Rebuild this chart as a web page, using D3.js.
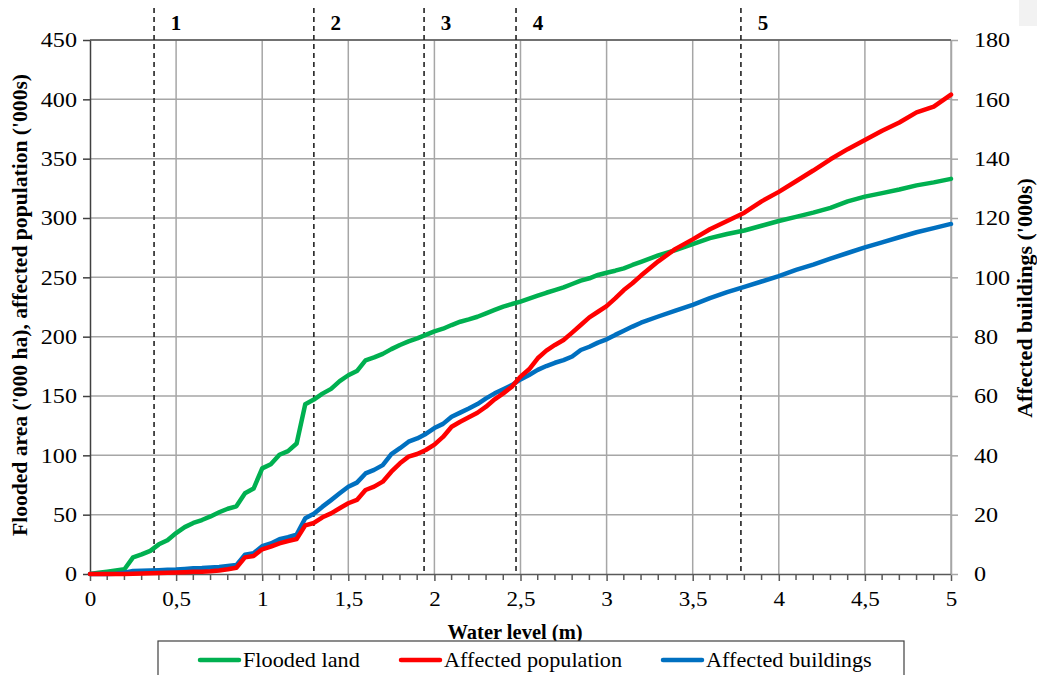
<!DOCTYPE html>
<html>
<head>
<meta charset="utf-8">
<script src="https://cdn.jsdelivr.net/npm/d3@7"></script>
<style>
  body { margin: 0; background: #fff; }
  svg { display: block; font-family: "Liberation Serif", "DejaVu Serif", serif; }
</style>
</head>
<body>
<svg id="chart" width="1037" height="675"></svg>
<script>
// water level (m)
const waterLevel = [0, 0.05, 0.1, 0.15, 0.2, 0.25, 0.3, 0.35, 0.4, 0.45, 0.5, 0.55, 0.6, 0.65, 0.7, 0.75, 0.8, 0.85, 0.9, 0.95,
  1, 1.05, 1.1, 1.15, 1.2, 1.25, 1.3, 1.35, 1.4, 1.45, 1.5, 1.55, 1.6, 1.65, 1.7, 1.75, 1.8, 1.85, 1.9, 1.95,
  2, 2.05, 2.1, 2.15, 2.2, 2.25, 2.3, 2.35, 2.4, 2.45, 2.5, 2.55, 2.6, 2.65, 2.7, 2.75, 2.8, 2.85, 2.9, 2.95,
  3, 3.05, 3.1, 3.15, 3.2, 3.3, 3.4, 3.5, 3.6, 3.7, 3.8, 3.9, 4, 4.1, 4.2, 4.3, 4.4, 4.5, 4.6, 4.7, 4.8, 4.9, 5];

// '000 ha (left axis)
const floodedLand = [0, 1, 2, 3, 4, 14, 16.5, 19.5, 25, 28.5, 34.5, 39.5, 43, 45.5, 48.5, 52, 55, 57, 68, 72,
  89, 92.5, 100.5, 103.5, 110, 143, 147, 152, 156, 162.5, 167.5, 171, 180, 182.5, 185.5, 189.5, 193, 196, 198.5, 201.5,
  204.5, 206.7, 209.8, 212.6, 214.6, 216.8, 219.7, 222.5, 225.3, 227.5, 229.5, 232, 234.5, 237, 239.3, 241.6, 244.4, 247.2, 249.2, 252,
  253.9, 255.6, 257.6, 260.4, 263, 268.5, 273, 278, 283, 286.5, 289.5, 293.5, 297.5, 301, 304.5, 308.5, 314, 318, 321, 324, 327.5, 330, 333];

// '000s (left axis)
const affectedPopulation = [0, 0, 0, 0, 0, 0.3, 0.5, 0.7, 0.8, 1, 1.2, 1.5, 1.8, 2, 2.3, 3, 4, 5.3, 14, 15.2,
  20.8, 23, 25.8, 27.8, 29.5, 41, 43, 47.8, 51.1, 55.4, 59.6, 62.4, 70.8, 73.6, 77.8, 86.2, 93.3, 98.9, 101.1, 104.5,
  109, 115.5, 124.1, 128.3, 132, 135.9, 141, 147.2, 152.2, 157.8, 166.3, 172.5, 181.8, 188.2, 193, 197.2, 203.4, 209.8, 216.3, 221,
  225.8, 232.3, 239.3, 245, 251.5, 263.5, 274, 282, 290.5, 297.5, 304.5, 314, 322, 331, 340, 349.5, 358, 365.7, 373.5, 380.5, 389, 393.8, 404];

// '000s (right axis)
const affectedBuildings = [0, 0, 0, 0.1, 0.4, 1, 1.1, 1.2, 1.3, 1.4, 1.5, 1.7, 1.9, 2, 2.2, 2.4, 2.7, 3, 6.5, 7,
  9.4, 10.3, 11.7, 12.4, 13.3, 18.8, 20.3, 22.7, 24.9, 27.2, 29.4, 30.8, 33.9, 35.1, 36.7, 40.4, 42.4, 44.6, 45.7, 47.2,
  49.2, 50.6, 53, 54.4, 55.8, 57.3, 59.2, 60.9, 62.3, 63.7, 65.6, 67.1, 68.8, 70.1, 71.2, 72.1, 73.3, 75.5, 76.6, 78,
  79.1, 80.6, 82, 83.4, 84.7, 86.8, 88.8, 90.7, 93, 95, 96.8, 98.6, 100.4, 102.5, 104.3, 106.3, 108.2, 110.1, 111.8, 113.5, 115.2, 116.6, 118];

// zone boundaries (m) and labels
const zoneBreaks = [0.372, 1.3, 1.94, 2.474, 3.78];
const zoneLabels = ["1", "2", "3", "4", "5"];

const xTicks = [0, 0.5, 1, 1.5, 2, 2.5, 3, 3.5, 4, 4.5, 5];
const leftTicks = [0, 50, 100, 150, 200, 250, 300, 350, 400, 450];
const rightTicks = [0, 20, 40, 60, 80, 100, 120, 140, 160, 180];

const seriesNames = ["Flooded land", "Affected population", "Affected buildings"];
const seriesColors = ["#00b050", "#ff0000", "#0070c0"];

const W = 1037, H = 675;
const margin = { top: 40, right: 86, bottom: 101, left: 90 };
const iw = W - margin.left - margin.right;
const ih = H - margin.top - margin.bottom;
const FONT = '"Liberation Serif", "DejaVu Serif", serif';

const svg = d3.select("#chart");
const fmt = d => String(d).replace(".", ",");

// text in the original is a bit wider than it is tall
const stretch = (sel, s) => sel.each(function () {
  const t = d3.select(this);
  const ax = +t.attr("x") || 0;
  t.attr("transform", `translate(${ax},0) scale(${s},1) translate(${-ax},0)`);
});

// faint box in the top right corner of the original
svg.append("rect").attr("x", 1019).attr("y", 0).attr("width", 18).attr("height", 26).attr("fill", "#f2f2f2");

const g = svg.append("g").attr("transform", `translate(${margin.left},${margin.top})`);

const x = d3.scaleLinear().domain([0, 5]).range([0, iw]);
const yL = d3.scaleLinear().domain([0, 450]).range([ih, 0]);
const yR = d3.scaleLinear().domain([0, 180]).range([ih, 0]);

// grid
g.append("g").selectAll("line").data(leftTicks.slice(1)).join("line")
  .attr("x1", 0).attr("x2", iw).attr("y1", d => yL(d)).attr("y2", d => yL(d))
  .attr("stroke", "#a6a6a6").attr("stroke-width", 1.5);
g.append("g").selectAll("line").data(xTicks.slice(1)).join("line")
  .attr("y1", 0).attr("y2", ih).attr("x1", d => x(d)).attr("x2", d => x(d))
  .attr("stroke", "#a6a6a6").attr("stroke-width", 1.5);
g.append("line").attr("x1", 0).attr("x2", iw).attr("y1", 0).attr("y2", 0)
  .attr("stroke", "#595959").attr("stroke-width", 1.5);

// axes
const styleAxis = (sel, col) => {
  sel.attr("font-family", FONT).attr("font-size", 21);
  sel.select(".domain").attr("stroke", col).attr("stroke-width", 1.5);
  sel.selectAll(".tick line").attr("stroke", col).attr("stroke-width", 1.5);
  sel.selectAll(".tick text").attr("fill", "#000");
};

const xAxis = g.append("g").attr("transform", `translate(0,${ih})`)
  .call(d3.axisBottom(x).tickValues(xTicks).tickFormat(fmt).tickSize(7).tickSizeOuter(0).tickPadding(8));
styleAxis(xAxis, "#595959");
xAxis.selectAll(".tick text").attr("dy", "0.8em");
stretch(xAxis.selectAll(".tick text"), 1.1);

// minor ticks every 0.1 m
const minor = d3.range(0, 51).map(i => i / 10).filter(v => !xTicks.includes(Math.round(v * 10) / 10));
g.append("g").selectAll("line").data(minor).join("line")
  .attr("x1", d => x(d)).attr("x2", d => x(d)).attr("y1", ih).attr("y2", ih + 6)
  .attr("stroke", "#595959").attr("stroke-width", 1.5);

const leftAxis = g.append("g")
  .call(d3.axisLeft(yL).tickValues(leftTicks).tickSize(7).tickSizeOuter(0).tickPadding(6));
styleAxis(leftAxis, "#404040");
stretch(leftAxis.selectAll(".tick text"), 1.15);

const rightAxis = g.append("g").attr("transform", `translate(${iw},0)`)
  .call(d3.axisRight(yR).tickValues(rightTicks).tickSize(7).tickSizeOuter(0).tickPadding(16));
styleAxis(rightAxis, "#a6a6a6");
stretch(rightAxis.selectAll(".tick text"), 1.15);

// zone dashed lines
g.append("g").selectAll("line").data(zoneBreaks).join("line")
  .attr("x1", d => x(d)).attr("x2", d => x(d)).attr("y1", -32).attr("y2", ih)
  .attr("stroke", "#222").attr("stroke-width", 1.6).attr("stroke-dasharray", "5,4");
g.append("g").selectAll("text").data(zoneBreaks).join("text")
  .attr("x", d => x(d) + 22).attr("y", -10)
  .attr("text-anchor", "middle")
  .attr("font-weight", "bold").attr("font-size", 21)
  .text((d, i) => zoneLabels[i]);

// series
const series = [
  { values: floodedLand, y: yL },
  { values: affectedPopulation, y: yL },
  { values: affectedBuildings, y: yR }
];
const order = [0, 2, 1];
order.forEach(i => {
  const s = series[i];
  const line = d3.line().x((d, k) => x(waterLevel[k])).y(d => s.y(d));
  g.append("path").datum(s.values)
    .attr("d", line).attr("fill", "none")
    .attr("stroke", seriesColors[i]).attr("stroke-width", 4.5)
    .attr("stroke-linejoin", "round").attr("stroke-linecap", "round");
});

// axis titles
svg.append("text").attr("x", 515).attr("y", 639)
  .attr("text-anchor", "middle").attr("font-weight", "bold").attr("font-size", 20.5)
  .text("Water level (m)");
svg.append("text").attr("transform", "translate(27,305) rotate(-90)")
  .attr("text-anchor", "middle").attr("font-weight", "bold").attr("font-size", 21.6)
  .text("Flooded area ('000 ha), affected population ('000s)");
svg.append("text").attr("transform", "translate(1032,298) rotate(-90)")
  .attr("text-anchor", "middle").attr("font-weight", "bold").attr("font-size", 22)
  .text("Affected buildings ('000s)");

// legend
svg.append("rect").attr("x", 158).attr("y", 641).attr("width", 746).attr("height", 50)
  .attr("fill", "#fff").attr("stroke", "#404040").attr("stroke-width", 1.2);
const legendX = [200, 401, 663];
const leg = svg.append("g").selectAll("g").data(seriesNames).join("g")
  .attr("transform", (d, i) => `translate(${legendX[i]},660)`);
leg.append("line").attr("x1", 0).attr("x2", 39).attr("y1", 0).attr("y2", 0)
  .attr("stroke", (d, i) => seriesColors[i]).attr("stroke-width", 4.5).attr("stroke-linecap", "round");
const legText = leg.append("text").attr("x", 43).attr("y", 7).attr("font-size", 21).text(d => d);
stretch(legText, 1.06);
</script>
</body>
</html>
